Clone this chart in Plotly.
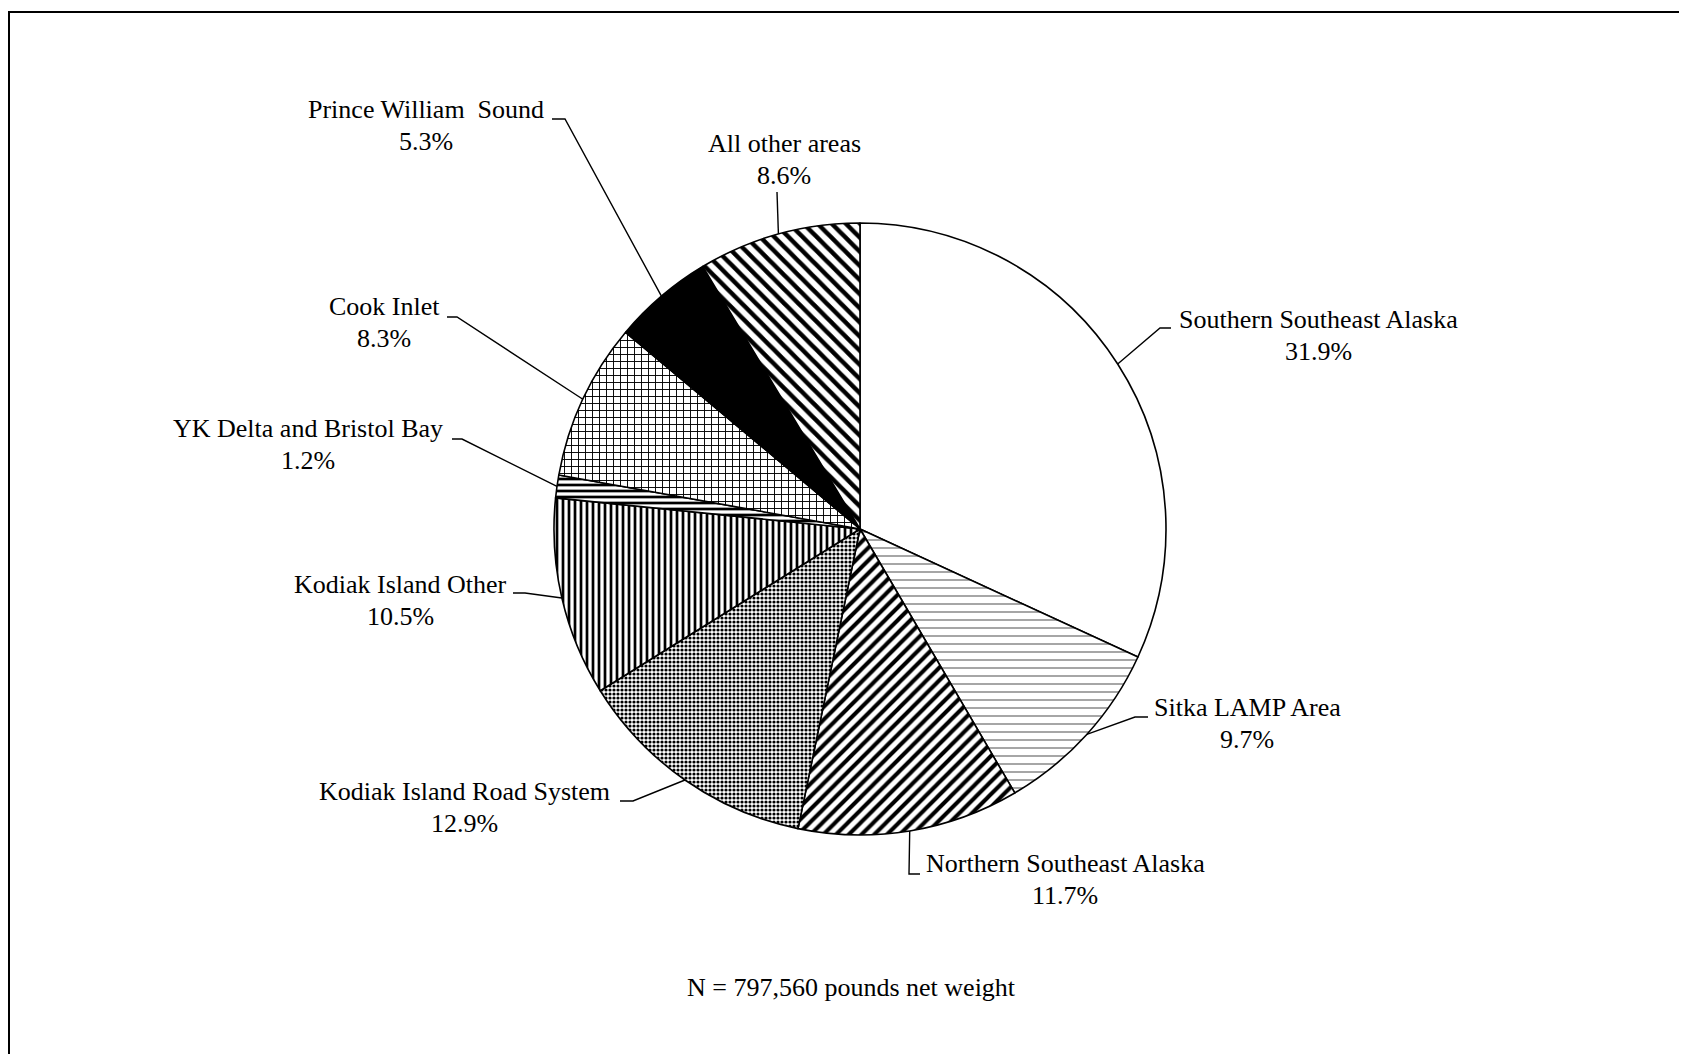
import numpy as np
import plotly.graph_objects as go

# ---- data ----
areas = ["Southern Southeast Alaska", "Sitka LAMP Area", "Northern Southeast Alaska",
         "Kodiak Island Road System", "Kodiak Island Other", "YK Delta and Bristol Bay",
         "Cook Inlet", "Prince William  Sound", "All other areas"]
shares = [31.9, 9.7, 11.7, 12.9, 10.5, 1.2, 8.3, 5.3, 8.6]
note = "N = 797,560 pounds net weight"

# ---- styling ----
W, H = 1687, 1054
OFF = 8  # page body margin
CX, CY, R = 860, 529, 306
FONT = "Liberation Serif, Times New Roman, serif"
FS = 26

colors = ["white", "white", "white", "white", "white", "white", "white", "black", "white"]
pat_shape = ["", "-", "/", ".", "|", "-", "+", "", "\\"]
pat_size = [8, 8, 9, 4, 6, 6, 7, 8, 10]
pat_sol = [0.2, 0.12, 0.45, 0.5, 0.45, 0.45, 0.25, 0.2, 0.45]
pat_fg = ["black", "#444444", "black", "black", "black", "black", "black", "black", "black"]

# label layout: (text centre x, line-1 baseline y, elbow x, elbow y, end x) in page pixels
label_pos = [
    (1318, 328, 1160, 328, 1171),
    (1247, 716, 1135, 717, 1148),
    (1065, 872, 909, 874, 920),
    (465, 800, 633, 801, 620),
    (400, 593, 525, 593, 513),
    (308, 437, 462, 439, 452),
    (384, 315, 457, 317, 447),
    (426, 118, 565, 119, 552),
    (784, 152, 777, 192, 777),
]


def px(x):
    return (x - OFF) / W


def py(y):
    return 1 - (y - OFF) / H


fig = go.Figure(go.Pie(
    labels=areas,
    values=shares,
    sort=False,
    direction="clockwise",
    rotation=0,
    textinfo="none",
    hoverinfo="label+percent",
    showlegend=False,
    domain=dict(x=[px(CX - 360), px(CX + 360)], y=[py(CY + R), py(CY - R)]),
    marker=dict(
        colors=colors,
        line=dict(color="black", width=1.6),
        pattern=dict(shape=pat_shape, size=pat_size, solidity=pat_sol,
                     fgcolor=pat_fg, bgcolor=colors, fillmode="replace"),
    ),
))

shapes = []
annotations = []
vals = np.array(shares, dtype=float)
cum = np.cumsum(vals) - vals / 2
mid_ang = cum / vals.sum() * 2 * np.pi  # clockwise from 12 o'clock

for i, (name, v) in enumerate(zip(areas, shares)):
    tx, ty, ex, ey, hx = label_pos[i]
    sx = CX + R * np.sin(mid_ang[i])
    sy = CY - R * np.cos(mid_ang[i])
    path = f"M {px(sx)} {py(sy)} L {px(ex)} {py(ey)} L {px(hx)} {py(ey)}"
    shapes.append(dict(type="path", path=path, xref="paper", yref="paper",
                       line=dict(color="black", width=1.4)))
    for k, txt in enumerate([name, f"{v:.1f}%"]):
        annotations.append(dict(
            x=px(tx), y=py(ty + 32 * k - 0.33 * FS), xref="paper", yref="paper",
            text=txt, showarrow=False, xanchor="center", yanchor="middle",
            font=dict(family=FONT, size=FS, color="black"),
        ))

annotations.append(dict(
    x=px(851), y=py(996 - 0.33 * FS), xref="paper", yref="paper",
    text=note, showarrow=False, xanchor="center", yanchor="middle",
    font=dict(family=FONT, size=FS, color="black"),
))

shapes.append(dict(type="rect", xref="paper", yref="paper",
                   x0=px(9), y0=py(1090), x1=px(1720), y1=py(12),
                   line=dict(color="black", width=2)))

fig.update_layout(
    width=W, height=H,
    margin=dict(l=0, r=0, t=0, b=0),
    paper_bgcolor="white", plot_bgcolor="white",
    shapes=shapes, annotations=annotations,
)

fig.write_html("out.html")
